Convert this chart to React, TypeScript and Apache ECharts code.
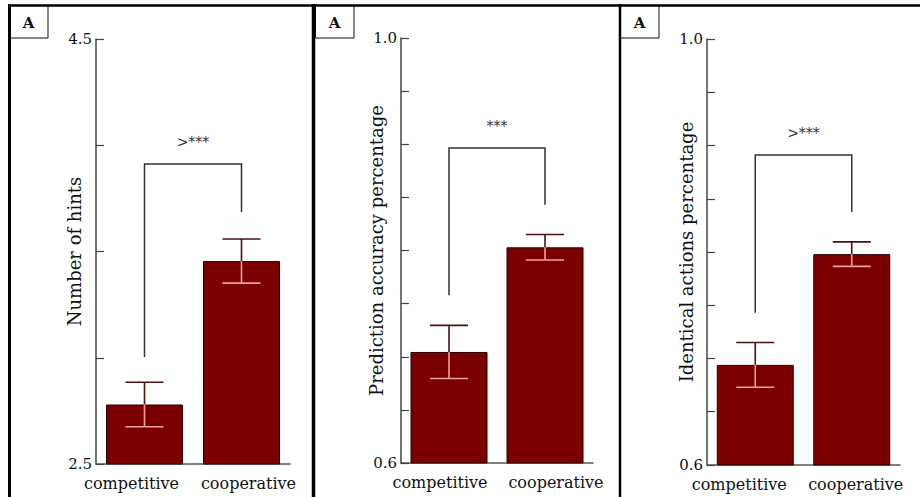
import React, { useEffect, useRef } from "react";
import * as echarts from "echarts";

const categories = ["competitive", "cooperative"];

const hintsMean = [2.78, 3.455];
const hintsSE = [0.105, 0.104];
const predMean = [0.7045, 0.803];
const predSE = [0.025, 0.012];
const identMean = [0.694, 0.798];
const identSE = [0.021, 0.0115];

const yNames = ["Number of hints", "Prediction accuracy percentage", "Identical actions percentage"];
const yMins = [2.5, 0.6, 0.6];
const yMaxs = [4.5, 1.0, 1.0];
const ySteps = [0.5, 0.05, 0.05];

// bracket: [top, left end, right end]
const bracketTops = [3.912, 0.8965, 0.891];
const bracketLeft = [3.004, 0.758, 0.743];
const bracketRight = [3.686, 0.843, 0.8375];
const sigLabels = [">***", "***", ">***"];
const panelLetters = ["A", "A", "A"];

const FONTSTACK = "'DejaVu Serif', serif";
const BAR = "#7b0000";

export default function App() {
  const ref = useRef<HTMLDivElement>(null);
  useEffect(() => {
    if (!ref.current) return;
    const chart = echarts.init(ref.current, null, { renderer: "svg" });
    const means = [hintsMean, predMean, identMean];
    const ses = [hintsSE, predSE, identSE];
    const grids = [
      { left: 96, top: 39, width: 194, height: 425 },
      { left: 401, top: 38, width: 192, height: 425 },
      { left: 707, top: 39, width: 193, height: 426 },
    ];
    const nameGaps = [13, 16, 12];
    // label horizontal shifts (px) for the two category labels in each panel
    const shifts = [
      [-13, 7],
      [-9, 11],
      [-16, 4],
    ];

    const xAxis: any[] = [];
    const yAxis: any[] = [];
    const series: any[] = [];
    for (let i = 0; i < 3; i++) {
      const mn = yMins[i];
      const mx = yMaxs[i];
      const sh = shifts[i];
      const baseText = { color: "#111", fontFamily: FONTSTACK, fontSize: 16 };
      xAxis.push({
        type: "category",
        gridIndex: i,
        data: categories,
        axisLine: { lineStyle: { color: "#555", width: 1.5 } },
        axisTick: { show: false },
        axisLabel: {
          interval: 0,
          margin: 11,
          ...baseText,
          formatter: (v: string, idx: number) => `{c${idx}|${v}}`,
          rich: {
            c0: {
              ...baseText,
              padding: sh[0] < 0 ? [0, -2 * sh[0], 0, 0] : [0, 0, 0, 2 * sh[0]],
            },
            c1: {
              ...baseText,
              padding: sh[1] < 0 ? [0, -2 * sh[1], 0, 0] : [0, 0, 0, 2 * sh[1]],
            },
          },
        },
      });
      yAxis.push({
        type: "value",
        gridIndex: i,
        min: mn,
        max: mx,
        interval: ySteps[i],
        name: yNames[i],
        nameLocation: "middle",
        nameRotate: 90,
        nameGap: nameGaps[i],
        nameMoveOverlap: false,
        nameTextStyle: { color: "#111", fontFamily: FONTSTACK, fontSize: 18 },
        splitLine: { show: false },
        axisLine: { show: true, lineStyle: { color: "#444", width: 1.5 } },
        axisTick: { show: true, inside: true, length: 8, lineStyle: { color: "#444", width: 1.2 } },
        axisLabel: {
          color: "#111",
          fontFamily: FONTSTACK,
          fontSize: 15,
          margin: 4,
          formatter: (v: number) =>
            Math.abs(v - mn) < 1e-9 || Math.abs(v - mx) < 1e-9 ? v.toFixed(1) : "",
        },
      });
      series.push({
        type: "bar",
        xAxisIndex: i,
        yAxisIndex: i,
        data: means[i],
        barWidth: 77,
        itemStyle: { color: BAR, borderColor: "#2a0000", borderWidth: 1 },
      });
      series.push({
        type: "custom",
        xAxisIndex: i,
        yAxisIndex: i,
        data: means[i].map((m, k) => [k, m, ses[i][k]]),
        z: 5,
        renderItem: (params: any, api: any) => {
          const c = api.value(0);
          const m = api.value(1);
          const s = api.value(2);
          const p = api.coord([c, m]);
          const t = api.coord([c, m + s]);
          const b = api.coord([c, m - s]);
          const hw = 19;
          const dark = { stroke: "#4a1212", lineWidth: 1.6 };
          const pink = { stroke: "#f0a0a0", lineWidth: 1.6 };
          return {
            type: "group",
            children: [
              { type: "line", shape: { x1: p[0], y1: t[1], x2: p[0], y2: p[1] }, style: dark },
              { type: "line", shape: { x1: p[0] - hw, y1: t[1], x2: p[0] + hw, y2: t[1] }, style: dark },
              { type: "line", shape: { x1: p[0], y1: p[1], x2: p[0], y2: b[1] }, style: pink },
              { type: "line", shape: { x1: p[0] - hw, y1: b[1], x2: p[0] + hw, y2: b[1] }, style: pink },
            ],
          };
        },
      });
      series.push({
        type: "custom",
        xAxisIndex: i,
        yAxisIndex: i,
        data: [[0, 1, bracketTops[i], bracketLeft[i], bracketRight[i]]],
        z: 4,
        renderItem: (params: any, api: any) => {
          const top = api.value(2);
          const lt = api.coord([api.value(0), top]);
          const lb = api.coord([api.value(0), api.value(3)]);
          const rt = api.coord([api.value(1), top]);
          const rb = api.coord([api.value(1), api.value(4)]);
          const st = { stroke: "#333", lineWidth: 1.5, fill: "none" };
          return {
            type: "group",
            children: [
              {
                type: "polyline",
                shape: { points: [[lb[0], lb[1]], [lt[0], lt[1]], [rt[0], rt[1]], [rb[0], rb[1]]] },
                style: st,
              },
              {
                type: "text",
                x: (lt[0] + rt[0]) / 2,
                y: lt[1] - 22,
                style: {
                  text: sigLabels[i],
                  fill: "#333",
                  font: `14px ${FONTSTACK}`,
                  align: "center",
                  verticalAlign: "middle",
                },
              },
            ],
          };
        },
      });
    }

    const boxes = [9, 315, 620];
    const graphic: any[] = [];
    boxes.forEach((bx, i) => {
      graphic.push({
        type: "rect",
        shape: { x: bx + 0.5, y: 5.5, width: 38.5, height: 32.5 },
        style: { fill: "#fff", stroke: "#111", lineWidth: 1 },
        z: 10,
      });
      graphic.push({
        type: "text",
        x: bx + 19.5,
        y: 23,
        style: {
          text: panelLetters[i],
          fill: "#111",
          font: `bold 15px ${FONTSTACK}`,
          align: "center",
          verticalAlign: "middle",
        },
        z: 11,
      });
    });
    graphic.push({ type: "line", shape: { x1: 8, y1: 5.5, x2: 920, y2: 5.5 }, style: { stroke: "#000", lineWidth: 2.5 }, z: 12 });
    graphic.push({ type: "line", shape: { x1: 9.5, y1: 4, x2: 9.5, y2: 497 }, style: { stroke: "#000", lineWidth: 3 }, z: 12 });
    graphic.push({ type: "line", shape: { x1: 313.5, y1: 4, x2: 313.5, y2: 497 }, style: { stroke: "#000", lineWidth: 3.5 }, z: 12 });
    graphic.push({ type: "line", shape: { x1: 620, y1: 4, x2: 620, y2: 497 }, style: { stroke: "#000", lineWidth: 2.5 }, z: 12 });

    chart.setOption({
      animation: false,
      backgroundColor: "#fff",
      grid: grids,
      xAxis,
      yAxis,
      series,
      graphic,
    });
    return () => chart.dispose();
  }, []);
  return (
    <div
      ref={ref}
      style={{ position: "absolute", left: 0, top: 0, width: 920, height: 497 }}
    />
  );
}
